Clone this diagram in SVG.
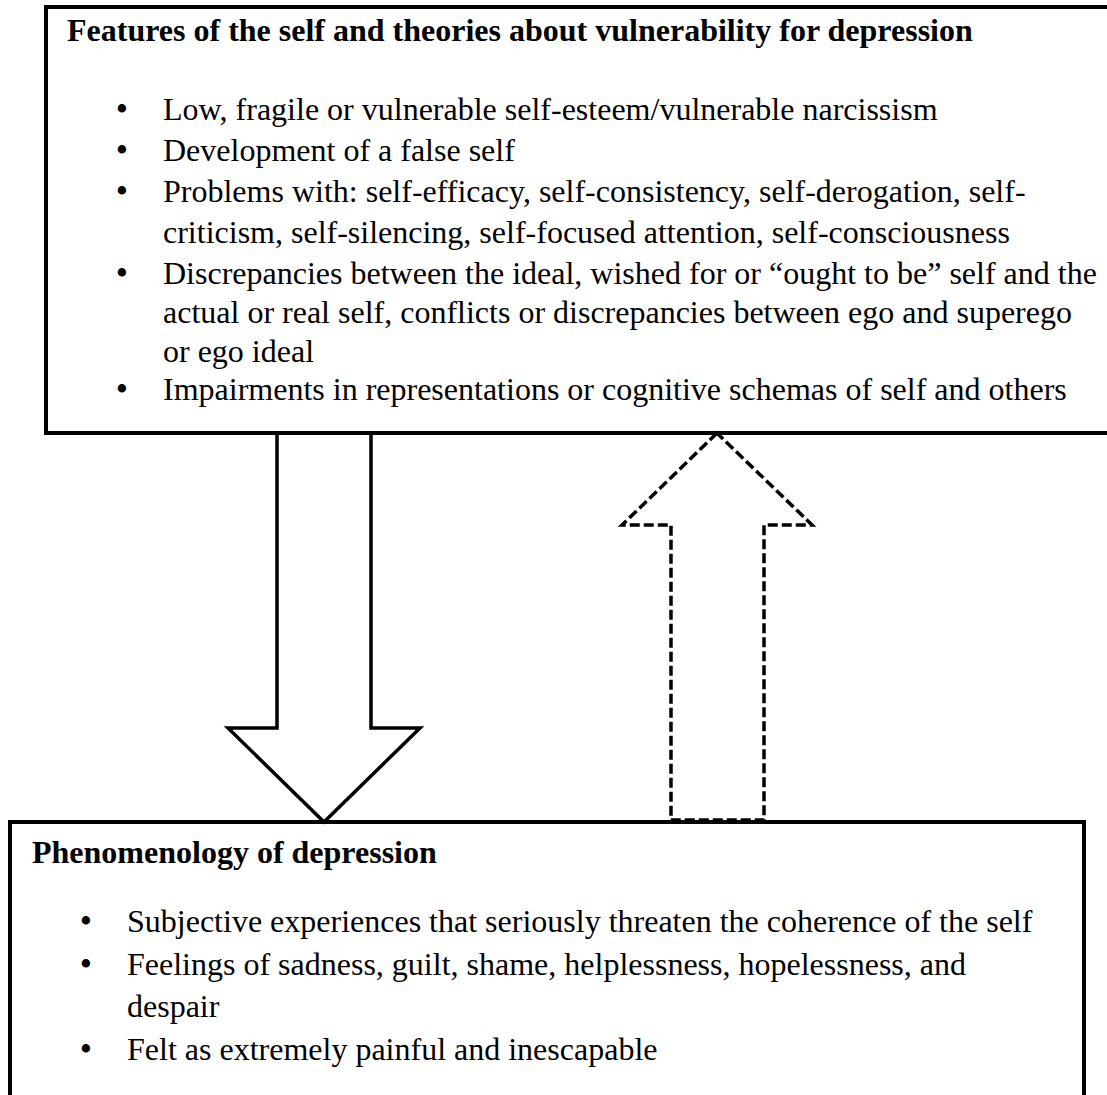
<svg xmlns="http://www.w3.org/2000/svg" width="1107" height="1095" viewBox="0 0 1107 1095">
<style>
.t{font-family:"Liberation Serif","Times New Roman",serif;font-size:32px;fill:#000}
.b{font-weight:bold}
.bl{font-family:"Liberation Serif","Times New Roman",serif;font-size:35px;text-anchor:middle;fill:#000}
.box{fill:none;stroke:#000;stroke-width:4}
.solid{fill:#fff;stroke:#000;stroke-width:3.5;stroke-linejoin:miter}
.dash{fill:#fff;stroke:#000;stroke-width:3.5;stroke-dasharray:10 4;stroke-linejoin:miter}
</style>
<rect width="1107" height="1095" fill="#fff"/>
<g id="connectors">
<polyline class="solid" points="277,433 277,728 228,728 324,822 420,728 371,728 371,433"/>
<polygon class="dash" points="717,433 622,525 671,525 671,820 764,820 764,525 812,525"/>
</g>
<g id="node-features">
<rect class="box" x="46" y="7" width="1070" height="426"/>
<text class="t b" x="67" y="41">Features of the self and theories about vulnerability for depression</text>
<text class="bl" x="122" y="121">•</text>
<text class="t" x="163" y="120">Low, fragile or vulnerable self-esteem/vulnerable narcissism</text>
<text class="bl" x="122" y="162">•</text>
<text class="t" x="163" y="161">Development of a false self</text>
<text class="bl" x="122" y="203">•</text>
<text class="t" x="163" y="202">Problems with: self-efficacy, self-consistency, self-derogation, self-</text>
<text class="t" x="163" y="243">criticism, self-silencing, self-focused attention, self-consciousness</text>
<text class="bl" x="122" y="285">•</text>
<text class="t" x="163" y="284">Discrepancies between the ideal, wished for or “ought to be” self and the</text>
<text class="t" x="163" y="323">actual or real self, conflicts or discrepancies between ego and superego</text>
<text class="t" x="163" y="362">or ego ideal</text>
<text class="bl" x="122" y="401">•</text>
<text class="t" x="163" y="400">Impairments in representations or cognitive schemas of self and others</text>
</g>
<g id="node-phenomenology">
<rect class="box" x="10" y="822" width="1074" height="290"/>
<text class="t b" x="32" y="863">Phenomenology of depression</text>
<text class="bl" x="86" y="933">•</text>
<text class="t" x="127" y="932">Subjective experiences that seriously threaten the coherence of the self</text>
<text class="bl" x="86" y="976">•</text>
<text class="t" x="127" y="975">Feelings of sadness, guilt, shame, helplessness, hopelessness, and</text>
<text class="t" x="127" y="1017">despair</text>
<text class="bl" x="86" y="1061">•</text>
<text class="t" x="127" y="1060">Felt as extremely painful and inescapable</text>
</g>
</svg>
